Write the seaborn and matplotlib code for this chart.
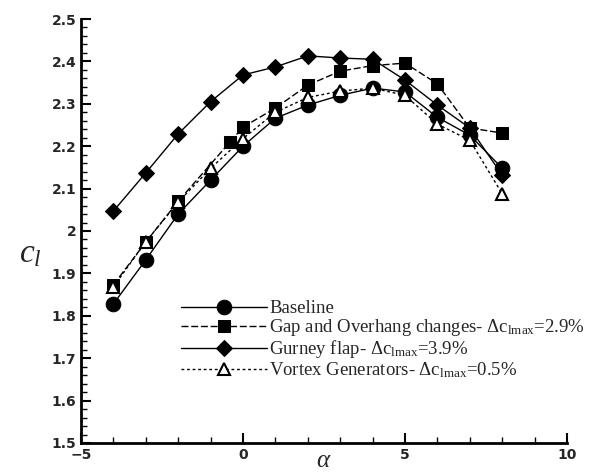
import numpy as np
import pandas as pd
import matplotlib
matplotlib.use("Agg")
import matplotlib.pyplot as plt
import seaborn as sns
from matplotlib.ticker import MultipleLocator

sns.set_style("ticks")
plt.rcParams['font.family'] = ['DejaVu Sans']
plt.rcParams['mathtext.fontset'] = 'custom'
plt.rcParams['mathtext.rm'] = 'Liberation Serif'
plt.rcParams['mathtext.it'] = 'Liberation Serif:italic'

alpha_base = [-4, -3, -2, -1, 0, 1, 2, 3, 4, 5, 6, 7, 8]
cl_base = [1.828, 1.932, 2.040, 2.120, 2.200, 2.266, 2.297, 2.320, 2.337, 2.328, 2.268, 2.226, 2.148]

alpha_gap = [-4, -3, -2, -0.4, 0, 1, 2, 3, 4, 5, 6, 7, 8]
cl_gap = [1.873, 1.974, 2.070, 2.210, 2.245, 2.290, 2.344, 2.377, 2.390, 2.396, 2.347, 2.243, 2.231]

alpha_gurney = [-4, -3, -2, -1, 0, 1, 2, 3, 4, 5, 6, 7, 8]
cl_gurney = [2.047, 2.137, 2.229, 2.305, 2.368, 2.387, 2.413, 2.408, 2.405, 2.356, 2.297, 2.243, 2.132]

alpha_vg = [-4, -3, -2, -1, 0, 1, 2, 3, 4, 5, 6, 7, 8]
cl_vg = [1.868, 1.975, 2.068, 2.148, 2.218, 2.280, 2.315, 2.330, 2.337, 2.320, 2.252, 2.214, 2.088]

labels = [
    "Baseline",
    r"Gap and Overhang changes- $\Delta \mathrm{c_{lmax}}$=2.9%",
    r"Gurney flap- $\Delta \mathrm{c_{lmax}}$=3.9%",
    r"Vortex Generators- $\Delta \mathrm{c_{lmax}}$=0.5%",
]

fig = plt.figure(figsize=(6.09, 4.74), dpi=100)
ax = fig.add_axes([81/609, 31/474, (567-81)/609, (443-19)/474])

series = [
    (alpha_base, cl_base, labels[0], dict(marker='o', markersize=10.5, linestyle='-', mfc='black')),
    (alpha_gap, cl_gap, labels[1], dict(marker='s', markersize=8, linestyle=(0, (5, 2)), mfc='black')),
    (alpha_gurney, cl_gurney, labels[2], dict(marker='D', markersize=8, linestyle='-', mfc='black')),
    (alpha_vg, cl_vg, labels[3], dict(marker='^', markersize=8, linestyle=(0, (2, 2)), mfc='white', mew=1.5)),
]
for xs, ys, lab, kw in series:
    df = pd.DataFrame({"alpha": xs, "cl": ys})
    sns.lineplot(data=df, x="alpha", y="cl", ax=ax, color='black', lw=1.0,
                 mec='black', label=lab, estimator=None, sort=False, **kw)

ax.set_xlim(-5, 10)
ax.set_ylim(1.5, 2.5)
ax.xaxis.set_major_locator(MultipleLocator(5))
ax.xaxis.set_minor_locator(MultipleLocator(1))
ax.yaxis.set_minor_locator(MultipleLocator(0.02))
ax.set_yticks([1.5, 1.6, 1.7, 1.8, 1.9, 2.0, 2.1, 2.2, 2.3, 2.4, 2.5])
ax.set_yticklabels(["1.5", "1.6", "1.7", "1.8", "1.9", "2", "2.1", "2.2", "2.3", "2.4", "2.5"])
ax.tick_params(which='major', direction='in', length=7, width=1.5, labelsize=10, color='black')
ax.tick_params(which='minor', direction='in', length=4, width=1.0, color='black')
for lbl in ax.get_xticklabels() + ax.get_yticklabels():
    lbl.set_fontweight('bold')
sns.despine(ax=ax)
for s in ('left', 'bottom'):
    ax.spines[s].set_linewidth(2)
    ax.spines[s].set_color('black')

ax.set_xlabel(r"$\alpha$", fontsize=18)
ax.xaxis.set_label_coords(0.5, -0.012)
ax.set_ylabel(r"$c_l$", fontsize=24, rotation=0)
ax.yaxis.set_label_coords(-0.105, 0.41)

leg = ax.legend(loc='upper left', bbox_to_anchor=(0.19, 0.355), frameon=False,
                prop={'family': 'Liberation Serif', 'size': 13.5},
                handlelength=4.6, handletextpad=0.1, labelspacing=0.0, borderaxespad=0)

fig.savefig("out.png", dpi=100)
